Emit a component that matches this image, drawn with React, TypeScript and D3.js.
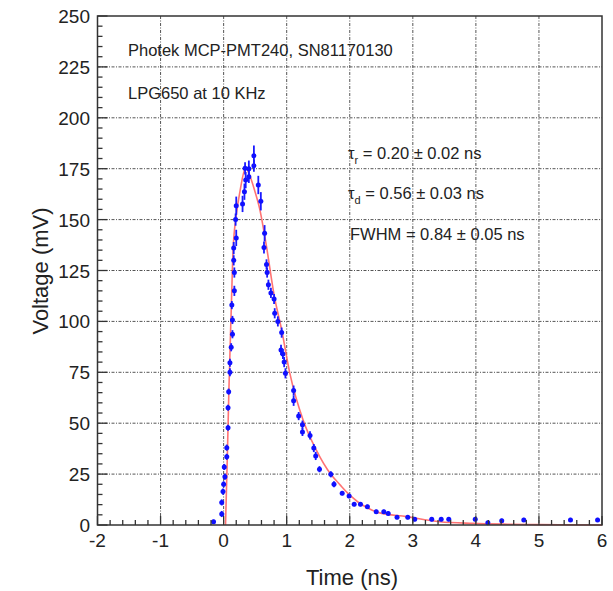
import React from "react";
import * as d3 from "d3";

const times = [-0.16, -0.03, -0.03, -0.01, 0.0, 0.02, 0.01, 0.05, 0.05, 0.07, 0.07, 0.08, 0.1, 0.1, 0.12, 0.14, 0.14, 0.13, 0.17, 0.17, 0.16, 0.16, 0.2, 0.19, 0.2, 0.3, 0.33, 0.35, 0.34, 0.4, 0.4, 0.48, 0.48, 0.55, 0.59, 0.65, 0.64, 0.68, 0.69, 0.71, 0.75, 0.8, 0.81, 0.86, 0.92, 0.91, 0.94, 0.96, 0.98, 1.11, 1.11, 1.19, 1.25, 1.25, 1.37, 1.43, 1.46, 1.52, 1.7, 1.75, 1.88, 1.99, 2.07, 2.17, 2.28, 2.42, 2.54, 2.61, 2.75, 2.92, 3.03, 3.3, 3.45, 3.57, 3.99, 4.19, 4.41, 4.76, 5.5, 5.93];
const volts = [1.6, 5.4, 11.1, 16.4, 20, 23.7, 28.5, 33.5, 38, 47.8, 57.6, 65.5, 75, 79.7, 87.3, 93.7, 100.7, 108, 115, 124, 130, 136, 141, 150, 156.8, 157.7, 163.7, 169.4, 175.2, 175, 171, 176.5, 181.4, 167, 159, 143.3, 136.3, 128, 124, 118, 114, 111, 104, 100, 94.5, 86, 84, 80, 74.5, 66, 61, 53.5, 49.3, 45.7, 44, 37.8, 33.9, 27.4, 24.9, 20, 15.6, 14.2, 10.2, 10.2, 9, 6.5, 6.5, 5.7, 3.8, 3.8, 2.8, 2.8, 2.8, 2.8, 2.8, 1.1, 2.1, 2.5, 2.5, 2.5];
const errs = [1, 1.5, 1.5, 1.5, 1.5, 1.5, 1.5, 1.5, 1.5, 1.5, 1.5, 1.5, 2, 2, 2, 2, 2, 2, 2.5, 2.5, 2.5, 3, 4, 3, 4.5, 4, 4, 4, 3, 4, 3, 3, 5, 4.5, 4.5, 4, 3, 2.5, 2.5, 2.5, 2.5, 2.5, 2.5, 2.5, 2.5, 2.5, 2.5, 2.5, 2.5, 2.5, 2.5, 2, 2, 2, 2, 2, 2, 1.5, 1.5, 1.5, 1, 1, 1, 1, 1, 1, 1, 1, 1, 1, 1, 1, 1, 1, 1, 1, 1, 1, 1, 1];

const fitT = [0.03, 0.06, 0.085, 0.12, 0.15, 0.2, 0.26, 0.35, 0.41, 0.49, 0.57, 0.68, 0.8, 0.92, 1.05, 1.26, 1.47, 1.7, 1.85, 2.0, 2.26, 2.45, 2.9, 3.43, 3.95, 4.5, 5.0, 6.0];
const fitV = [0, 35, 68, 105, 135, 152, 164, 175.5, 172, 164.5, 155.5, 136.7, 113, 95.8, 74.5, 51.6, 36.8, 24.9, 19.6, 14.7, 8.7, 6.2, 4.1, 1.6, 0.8, 0.4, 0.2, 0];

const xTicks = [-2, -1, 0, 1, 2, 3, 4, 5, 6];
const yTicks = [0, 25, 50, 75, 100, 125, 150, 175, 200, 225, 250];

const W = 613;
const H = 591;
const L = 97.5, R = 602, T = 16, B = 525;
const FONT = "'Liberation Sans', Arial, Helvetica, sans-serif";

export default function App() {
  const x = d3.scaleLinear().domain([-2, 6]).range([L, R]);
  const y = d3.scaleLinear().domain([0, 250]).range([B, T]);
  const xMinor = d3.range(-2, 6.001, 0.2).filter((v) => Math.abs(v - Math.round(v)) > 1e-6);
  const yMinor = d3.range(0, 250.001, 5).filter((v) => v % 25 !== 0);
  const line = d3
    .line<number>()
    .x((_, i) => x(fitT[i]))
    .y((d) => y(d))
    .curve(d3.curveMonotoneX);
  const gridColor = "#555";
  const dash = "3,1.5,1,1.5";

  return (
    <svg width={W} height={H} style={{ position: "absolute", left: 0, top: 0, background: "#fff" }} fontFamily={FONT}>
      <rect x={0} y={0} width={W} height={H} fill="#fff" />
      {xTicks.slice(1, -1).map((t) => (
        <line key={"gx" + t} x1={x(t)} x2={x(t)} y1={T} y2={B} stroke={gridColor} strokeWidth={1} strokeDasharray={dash} />
      ))}
      {yTicks.slice(1, -1).map((t) => (
        <line key={"gy" + t} x1={L} x2={R} y1={y(t)} y2={y(t)} stroke={gridColor} strokeWidth={1} strokeDasharray={dash} />
      ))}
      <path d={line(fitV) || ""} fill="none" stroke="#ff5a5a" strokeWidth={1.6} strokeOpacity={0.85} />
      {times.map((t, i) => (
        <g key={"p" + i}>
          <line x1={x(t)} x2={x(t)} y1={y(volts[i] - errs[i])} y2={y(volts[i] + errs[i])} stroke="#1a1aff" strokeWidth={1.8} />
          <circle cx={x(t)} cy={y(volts[i])} r={2.5} fill="#1010ff" />
        </g>
      ))}
      <rect x={L} y={T} width={R - L} height={B - T} fill="none" stroke="#333" strokeWidth={1.5} />
      {xTicks.map((t) => (
        <line key={"xt" + t} x1={x(t)} x2={x(t)} y1={B} y2={B - 9} stroke="#333" strokeWidth={1.3} />
      ))}
      {xMinor.map((t, i) => (
        <line key={"xm" + i} x1={x(t)} x2={x(t)} y1={B} y2={B - 5} stroke="#333" strokeWidth={1.3} />
      ))}
      {yTicks.map((t) => (
        <line key={"yt" + t} x1={L} x2={L + 10} y1={y(t)} y2={y(t)} stroke="#333" strokeWidth={1.3} />
      ))}
      {yMinor.map((t, i) => (
        <line key={"ym" + i} x1={L} x2={L + 5} y1={y(t)} y2={y(t)} stroke="#333" strokeWidth={1.3} />
      ))}
      {xTicks.map((t) => (
        <text key={"xl" + t} x={x(t)} y={547} fontSize={19} textAnchor="middle" fill="#222">
          {t}
        </text>
      ))}
      {yTicks.map((t) => (
        <text key={"yl" + t} x={90} y={y(t) + 7} fontSize={19} textAnchor="end" fill="#222">
          {t}
        </text>
      ))}
      <text x={352} y={585} fontSize={22} textAnchor="middle" fill="#222">
        Time (ns)
      </text>
      <text transform={`translate(48,271) rotate(-90)`} fontSize={22} textAnchor="middle" fill="#222">
        Voltage (mV)
      </text>
      <text x={128} y={56} fontSize={16.5} fill="#222">
        Photek MCP-PMT240, SN81170130
      </text>
      <text x={128} y={99} fontSize={16.5} fill="#222">
        LPG650 at 10 KHz
      </text>
      <text x={348} y={159} fontSize={16.5} fill="#222">
        τ<tspan fontSize={11} dy={5}>r</tspan>
        <tspan dy={-5}> = 0.20 ± 0.02 ns</tspan>
      </text>
      <text x={348} y={199} fontSize={16.5} fill="#222">
        τ<tspan fontSize={11} dy={5}>d</tspan>
        <tspan dy={-5}> = 0.56 ± 0.03 ns</tspan>
      </text>
      <text x={350} y={240} fontSize={16.5} fill="#222">
        FWHM = 0.84 ± 0.05 ns
      </text>
    </svg>
  );
}
